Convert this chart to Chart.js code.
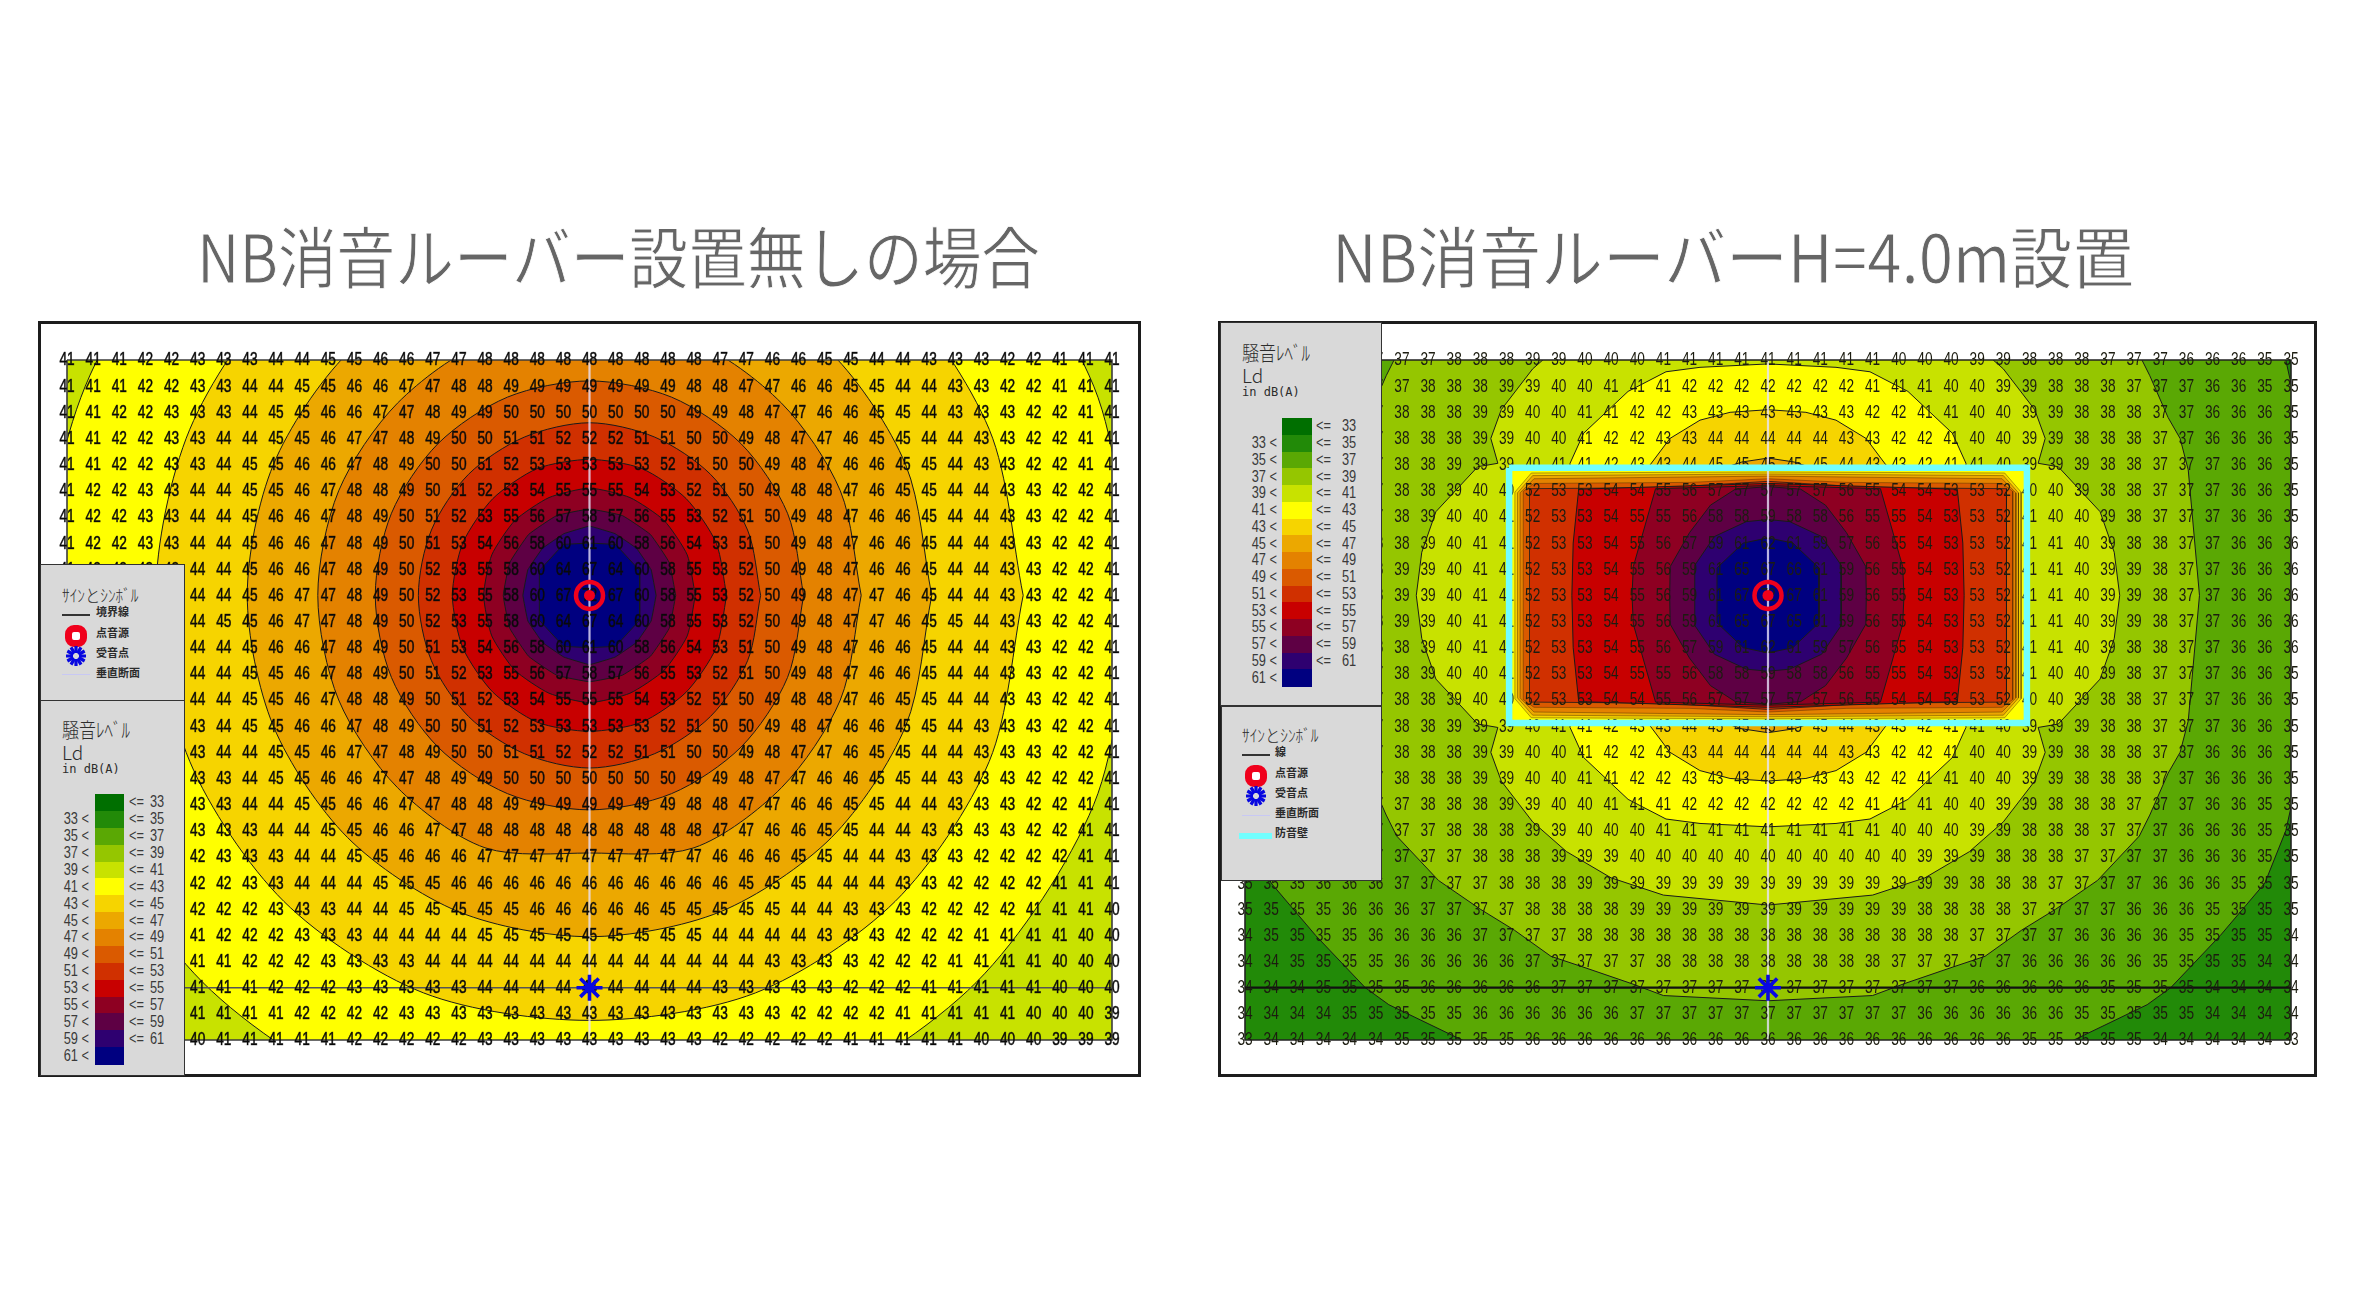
<!DOCTYPE html>
<html lang="ja"><head><meta charset="utf-8"><title>NB消音ルーバー</title>
<script src="https://cdn.jsdelivr.net/npm/chart.js@4"></script>
<style>
html,body{margin:0;padding:0;background:#fff;width:2363px;height:1308px;overflow:hidden}
#page{position:relative;width:2363px;height:1308px;font-family:"Noto Sans CJK JP",sans-serif}
.abs{position:absolute;white-space:pre;line-height:1}
canvas{position:absolute}
.frame{position:absolute;box-sizing:border-box;border:3px solid #1c1c1c}
.panel{position:absolute;box-sizing:border-box;background:#d9d9d9;border:1.5px solid #333}
.title{position:absolute;white-space:nowrap;color:#666;font-size:67px;line-height:1;transform-origin:0 50%;-webkit-text-stroke:.9px #fff}
</style></head><body><div id="page"></div>
<script>
// ---------- shared legend data ----------
const upperBounds=[33,35,37,39,41,43,45,47,49,51,53,55,57,59,61];
const lowerBounds=[33,35,37,39,41,43,45,47,49,51,53,55,57,59,61];
const bandColors=['#006f00','#228a08','#5aa804','#95c600','#c8e200','#ffff00','#f6d400','#eca800','#e48200','#da5a00','#d03000','#c80000','#8e0022','#5e0044','#2e0070','#000080'];
const legendLeftTitle='騒音ﾚﾍﾞﾙ', legendUnit='Ld', legendScale='in dB(A)', signTitle='ｻｲﾝとｼﾝﾎﾞﾙ';

const leftRow00=[41,41,41,42,42,43,43,43,44,44,45,45,46,46,47,47,48,48,48,48,48,48,48,48,48,47,47,46,46,45,45,44,44,43,43,43,42,42,41,41,41];
const leftRow01=[41,41,41,42,42,43,43,44,44,45,45,46,46,47,47,48,48,49,49,49,49,49,49,49,48,48,47,47,46,46,45,45,44,44,43,43,42,42,41,41,41];
const leftRow02=[41,41,42,42,43,43,43,44,45,45,46,46,47,47,48,49,49,50,50,50,50,50,50,50,49,49,48,47,47,46,46,45,45,44,43,43,43,42,42,41,41];
const leftRow03=[41,41,42,42,43,43,44,44,45,45,46,47,47,48,49,50,50,51,51,52,52,52,51,51,50,50,49,48,47,47,46,45,45,44,44,43,43,42,42,41,41];
const leftRow04=[41,41,42,42,43,43,44,45,45,46,46,47,48,49,50,50,51,52,53,53,53,53,53,52,51,50,50,49,48,47,46,46,45,45,44,43,43,42,42,41,41];
const leftRow05=[41,42,42,43,43,44,44,45,45,46,47,48,48,49,50,51,52,53,54,55,55,55,54,53,52,51,50,49,48,48,47,46,45,45,44,44,43,43,42,42,41];
const leftRow06=[41,42,42,43,43,44,44,45,46,46,47,48,49,50,51,52,53,55,56,57,58,57,56,55,53,52,51,50,49,48,47,46,46,45,44,44,43,43,42,42,41];
const leftRow07=[41,42,42,43,43,44,44,45,46,46,47,48,49,50,51,53,54,56,58,60,61,60,58,56,54,53,51,50,49,48,47,46,46,45,44,44,43,43,42,42,41];
const leftRow08=[41,42,42,43,43,44,44,45,46,46,47,48,49,50,52,53,55,58,60,64,67,64,60,58,55,53,52,50,49,48,47,46,46,45,44,44,43,43,42,42,41];
const leftRow09=[41,42,42,43,43,44,44,45,46,47,47,48,49,50,52,53,55,58,60,67,72,67,60,58,55,53,52,50,49,48,47,47,46,45,44,44,43,43,42,42,41];
const leftRow10=[41,42,42,43,43,44,45,45,46,47,47,48,49,50,52,53,55,58,60,64,67,64,60,58,55,53,52,50,49,48,47,47,46,45,45,44,43,43,42,42,41];
const leftRow11=[41,42,42,43,43,44,44,45,46,46,47,48,49,50,51,53,54,56,58,60,61,60,58,56,54,53,51,50,49,48,47,46,46,45,44,44,43,43,42,42,41];
const leftRow12=[41,42,42,43,43,44,44,45,45,46,47,48,49,50,51,52,53,55,56,57,58,57,56,55,53,52,51,50,49,48,47,46,46,45,44,44,43,43,42,42,41];
const leftRow13=[41,42,42,43,43,44,44,45,45,46,47,48,48,49,50,51,52,53,54,55,55,55,54,53,52,51,50,49,48,48,47,46,45,45,44,44,43,43,42,42,41];
const leftRow14=[41,42,42,43,43,43,44,45,45,46,46,47,48,49,50,50,51,52,53,53,53,53,53,52,51,50,50,49,48,47,46,46,45,45,44,43,43,43,42,42,41];
const leftRow15=[41,42,42,43,43,43,44,44,45,45,46,47,47,48,49,50,50,51,51,52,52,52,51,51,50,50,49,48,47,47,46,45,45,44,44,43,43,43,42,42,41];
const leftRow16=[41,42,42,42,43,43,43,44,45,45,46,46,47,47,48,49,49,50,50,50,50,50,50,50,49,49,48,47,47,46,46,45,45,44,43,43,43,42,42,42,41];
const leftRow17=[41,41,42,42,43,43,43,44,44,45,45,46,46,47,47,48,48,49,49,49,49,49,49,49,48,48,47,47,46,46,45,45,44,44,43,43,43,42,42,41,41];
const leftRow18=[41,41,42,42,43,43,43,43,44,44,45,45,46,46,47,47,48,48,48,48,48,48,48,48,48,47,47,46,46,45,45,44,44,43,43,43,43,42,42,41,41];
const leftRow19=[41,41,42,42,42,42,43,43,43,44,44,45,45,46,46,46,47,47,47,47,47,47,47,47,47,46,46,46,45,45,44,44,43,43,43,42,42,42,42,41,41];
const leftRow20=[41,41,41,42,42,42,42,43,43,44,44,44,45,45,45,46,46,46,46,46,46,46,46,46,46,46,45,45,45,44,44,44,43,43,42,42,42,42,41,41,41];
const leftRow21=[40,41,41,41,42,42,42,42,43,43,43,44,44,45,45,45,45,45,46,46,46,46,46,45,45,45,45,45,44,44,43,43,43,42,42,42,42,41,41,41,40];
const leftRow22=[40,40,41,41,41,41,42,42,42,43,43,43,44,44,44,44,45,45,45,45,45,45,45,45,45,44,44,44,44,43,43,43,42,42,42,41,41,41,41,40,40];
const leftRow23=[40,40,40,41,41,41,41,42,42,42,43,43,43,43,44,44,44,44,44,44,44,44,44,44,44,44,44,43,43,43,43,42,42,42,41,41,41,41,40,40,40];
const leftRow24=[40,40,40,41,41,41,41,41,42,42,42,43,43,43,43,43,44,44,44,44,44,44,44,44,44,43,43,43,43,43,42,42,42,41,41,41,41,41,40,40,40];
const leftRow25=[39,40,40,40,41,41,41,41,41,42,42,42,42,43,43,43,43,43,43,43,43,43,43,43,43,43,43,43,42,42,42,42,41,41,41,41,41,40,40,40,39];
const leftRow26=[39,39,39,40,40,40,41,41,41,41,41,42,42,42,42,42,43,43,43,43,43,43,43,43,43,42,42,42,42,42,41,41,41,41,41,40,40,40,39,39,39];
const leftGrid=[leftRow00,leftRow01,leftRow02,leftRow03,leftRow04,leftRow05,leftRow06,leftRow07,leftRow08,leftRow09,leftRow10,leftRow11,leftRow12,leftRow13,leftRow14,leftRow15,leftRow16,leftRow17,leftRow18,leftRow19,leftRow20,leftRow21,leftRow22,leftRow23,leftRow24,leftRow25,leftRow26];

const rightRow00=[35,35,36,36,36,37,37,37,38,38,38,39,39,40,40,40,41,41,41,41,41,41,41,41,41,40,40,40,39,39,38,38,38,37,37,37,36,36,36,35,35];
const rightRow01=[35,35,36,36,37,37,37,38,38,38,39,39,40,40,41,41,41,42,42,42,42,42,42,42,41,41,41,40,40,39,39,38,38,38,37,37,37,36,36,35,35];
const rightRow02=[35,36,36,36,37,37,38,38,38,39,39,40,40,41,41,42,42,43,43,43,43,43,43,43,42,42,41,41,40,40,39,39,38,38,38,37,37,36,36,36,35];
const rightRow03=[35,36,36,36,37,37,38,38,38,39,39,40,40,41,42,42,43,43,44,44,44,44,44,43,43,42,42,41,40,40,39,39,38,38,38,37,37,36,36,36,35];
const rightRow04=[35,36,36,37,37,37,38,38,39,39,39,40,41,41,42,43,43,44,45,45,45,45,45,44,43,43,42,41,41,40,39,39,39,38,38,37,37,37,36,36,35];
const rightRow05=[35,36,36,37,37,37,38,38,39,40,40,52,53,53,54,54,55,56,57,57,57,57,57,56,55,54,54,53,53,52,40,40,39,38,38,37,37,37,36,36,35];
const rightRow06=[35,36,36,37,37,37,38,39,40,40,41,52,53,53,54,55,55,56,58,58,59,58,58,56,55,55,54,53,53,52,41,40,40,39,38,37,37,37,36,36,35];
const rightRow07=[36,36,36,37,37,38,38,39,40,41,41,52,53,53,54,55,56,57,59,61,62,61,59,57,56,55,54,53,53,52,41,41,40,39,38,38,37,37,36,36,36];
const rightRow08=[36,36,36,37,37,38,39,39,40,41,41,52,53,53,54,55,56,59,61,65,67,66,61,59,56,55,54,53,53,52,41,41,40,39,39,38,37,37,36,36,36];
const rightRow09=[36,36,36,37,37,38,39,39,40,41,41,52,53,53,54,55,56,59,61,67,72,67,61,59,56,55,54,53,53,52,41,41,40,39,39,38,37,37,36,36,36];
const rightRow10=[36,36,36,37,37,38,39,39,40,41,41,52,53,53,54,55,56,59,61,65,67,65,61,59,56,55,54,53,53,52,41,41,40,39,39,38,37,37,36,36,36];
const rightRow11=[36,36,36,37,37,38,38,39,40,41,41,52,53,53,54,55,56,57,59,61,62,61,59,57,56,55,54,53,53,52,41,41,40,39,38,38,37,37,36,36,36];
const rightRow12=[35,36,36,37,37,37,38,39,40,40,41,52,53,53,54,55,55,56,58,58,59,58,58,56,55,55,54,53,53,52,41,40,40,39,38,37,37,37,36,36,35];
const rightRow13=[35,36,36,37,37,37,38,38,39,40,40,52,53,53,54,54,55,56,57,57,57,57,57,56,55,54,54,53,53,52,40,40,39,38,38,37,37,37,36,36,35];
const rightRow14=[35,36,36,37,37,37,38,38,39,39,39,40,41,41,42,43,43,44,45,45,45,45,45,44,43,43,42,41,41,40,39,39,39,38,38,37,37,37,36,36,35];
const rightRow15=[35,36,36,36,37,37,38,38,38,39,39,40,40,41,42,42,43,43,44,44,44,44,44,43,43,42,42,41,40,40,39,39,38,38,38,37,37,36,36,36,35];
const rightRow16=[35,36,36,36,37,37,38,38,38,39,39,40,40,41,41,42,42,43,43,43,43,43,43,43,42,42,41,41,40,40,39,39,38,38,38,37,37,36,36,36,35];
const rightRow17=[35,35,36,36,37,37,37,38,38,38,39,39,40,40,41,41,41,42,42,42,42,42,42,42,41,41,41,40,40,39,39,38,38,38,37,37,37,36,36,35,35];
const rightRow18=[35,35,36,36,36,37,37,37,38,38,38,39,39,40,40,40,41,41,41,41,41,41,41,41,41,40,40,40,39,39,38,38,38,37,37,37,36,36,36,35,35];
const rightRow19=[35,35,36,36,36,37,37,37,37,38,38,38,39,39,39,40,40,40,40,40,40,40,40,40,40,40,39,39,39,38,38,38,37,37,37,37,36,36,36,35,35];
const rightRow20=[35,35,35,36,36,36,37,37,37,37,38,38,38,39,39,39,39,39,39,39,39,39,39,39,39,39,39,39,38,38,38,37,37,37,37,36,36,36,35,35,35];
const rightRow21=[35,35,35,35,36,36,36,37,37,37,37,38,38,38,38,39,39,39,39,39,39,39,39,39,39,39,38,38,38,38,37,37,37,37,36,36,36,35,35,35,35];
const rightRow22=[34,35,35,35,35,36,36,36,36,37,37,37,37,38,38,38,38,38,38,38,38,38,38,38,38,38,38,38,37,37,37,37,36,36,36,36,35,35,35,35,34];
const rightRow23=[34,34,35,35,35,35,36,36,36,36,36,37,37,37,37,37,38,38,38,38,38,38,38,38,38,37,37,37,37,37,36,36,36,36,36,35,35,35,35,34,34];
const rightRow24=[34,34,34,35,35,35,35,36,36,36,36,36,37,37,37,37,37,37,37,37,37,37,37,37,37,37,37,37,36,36,36,36,36,35,35,35,35,34,34,34,34];
const rightRow25=[34,34,34,34,35,35,35,35,35,36,36,36,36,36,36,37,37,37,37,37,37,37,37,37,37,37,36,36,36,36,36,36,35,35,35,35,35,34,34,34,34];
const rightRow26=[33,34,34,34,34,34,35,35,35,35,35,36,36,36,36,36,36,36,36,36,36,36,36,36,36,36,36,36,36,36,35,35,35,35,35,34,34,34,34,34,33];
const rightGrid=[rightRow00,rightRow01,rightRow02,rightRow03,rightRow04,rightRow05,rightRow06,rightRow07,rightRow08,rightRow09,rightRow10,rightRow11,rightRow12,rightRow13,rightRow14,rightRow15,rightRow16,rightRow17,rightRow18,rightRow19,rightRow20,rightRow21,rightRow22,rightRow23,rightRow24,rightRow25,rightRow26];

// ---------- contour outlines: one quadrant, offsets [columns, rows] from the source ----------
const sourceCol=20, sourceRow=9, receiverCol=20, receiverRow=24, lastCol=40, lastRow=26;
const leftContour41=[[20.9,0],[19.3,8],[14.8,14.8],[8,19.3],[0,20.9]];
const leftContour43=[[16.6,0],[15.3,6.35],[11.7,11.7],[6.35,15.2],[0,16.25]];
const leftContour45=[[13.1,0],[12.1,5],[9.26,9.26],[5,12.1],[0,13.05]];
const leftContour47=[[10.4,0],[9.6,4],[7.35,7.35],[4,9.65],[0,9.85]];
const leftContour49=[[8.2,0],[7.58,3.14],[5.8,5.8],[3.14,7.58],[0,8.2]];
const leftContour51=[[6.55,0],[6.05,2.5],[4.63,4.63],[2.5,6.05],[0,6.6]];
const leftContour53=[[5.25,0],[4.85,2],[3.7,3.7],[2,4.85],[0,5.2]];
const leftContour55=[[4.05,0],[3.74,1.55],[2.86,2.86],[1.55,3.74],[0,4.1]];
const leftContour57=[[3.3,0],[3.05,1.26],[2.33,2.33],[1.26,3.05],[0,3.3]];
const leftContour59=[[2.55,0],[2.36,0.98],[1.8,1.8],[0.98,2.36],[0,2.65]];
const leftContour61=[[1.92,0],[1.92,0.95],[1,1.95],[0,2]];
const rightContour35=[[21.5,0],[20.6,5],[20,8.1],[19.8,9],[19,11],[17.3,13],[15.4,15],[14.5,15.65],[11.7,17],[6,19.5],[0,20.5]];
const rightContour37=[[16.5,0],[16.07,4.8],[15.76,6],[15.3,6.8],[14.6,8.4],[14.2,9.2],[12.6,10.9],[11,12],[9.7,12.8],[8.3,13.8],[7.1,14.2],[5.2,14.85],[4,15.3],[0,15.5]];
const rightContour39=[[13.45,0],[13.24,1.65],[12.7,3.2],[11.1,4.92],[10.33,5.05],[10.6,6],[10.2,7.1],[9,8.66],[7.7,9.8],[6,10.8],[4,11.46],[0,11.84]];
const rightContour41=[[7.6,0],[7.57,5.05],[7.05,6.2],[5.35,7.8],[3.9,8.55],[2.6,8.72],[0,8.85]];
const rightContour43=[[4.5,0],[4.5,5],[3.75,6],[2.6,6.7],[1.45,7],[0,7.1]];
const rightContour45=[[1.6,0],[1.6,4.9],[1,5.1],[0,5.25]];
const wallHalfWidth=9.9, wallHalfHeight=4.88;
const innerContour43=[[9.68,0],[9.68,3.95],[9.05,4.68],[0,4.72]];
const innerContour45=[[9.58,0],[9.58,3.92],[9,4.58],[0,4.64]];
const innerContour47=[[9.48,0],[9.48,3.92],[8.95,4.46],[0,4.56]];
const innerContour49=[[9.36,0],[9.36,3.98],[8.95,4.28],[3,4.32],[0,4.46]];
const innerContour51=[[9.12,0],[9.12,4.08],[4,4.12],[0,4.36]];
const innerContour53=[[7.5,0],[7.45,2],[7.24,4.06],[0,4.28]];
const innerContour55=[[5.2,0],[5.15,1.1],[4.3,4.08],[0,4.2]];
const innerContour57=[[3.76,0],[3.74,1.1],[3,2.4],[2.2,3.45],[1.25,4.06],[0,4.16]];
const innerContour59=[[2.8,0],[2.8,1.15],[2.05,2.25],[0.83,2.82],[0,2.9]];
const innerContour61=[[1.95,0],[1.95,1.05],[0.95,2],[0,2.2]];

// ---------- helpers ----------
function ring(q){
  const pts=[];
  const c=(dx,dy)=>pts.push({x:sourceCol+dx,y:sourceRow+dy});
  q.forEach(p=>c(p[0],p[1]));
  for(let i=q.length-2;i>=0;i--)c(-q[i][0],q[i][1]);
  for(let i=1;i<q.length;i++)c(-q[i][0],-q[i][1]);
  for(let i=q.length-2;i>=0;i--)c(q[i][0],-q[i][1]);
  return pts;
}
const band=l=>bandColors[upperBounds.indexOf(l)+1];
function area(q,level,tension,lineWidth,lineColor){
  return {data:ring(q),backgroundColor:band(level),borderColor:lineColor||'#1a1a1a',borderWidth:lineWidth||1,fill:'shape',showLine:true,pointRadius:0,tension:tension||0};
}
function box(x0,x1,y0,y1,fillColor){
  const d=[{x:x0,y:y0},{x:x1,y:y0},{x:x1,y:y1},{x:x0,y:y1},{x:x0,y:y0}];
  return {data:d,backgroundColor:fillColor,borderColor:fillColor,borderWidth:0,fill:'shape',showLine:true,pointRadius:0};
}
function path(d,color,width,clip){
  return {data:d,borderColor:color,borderWidth:width,fill:false,showLine:true,pointRadius:0,clip:clip===undefined?0:clip};
}
function labelLayer(grid,bold){
  return {labelLayer:true,bold:bold,data:grid.flatMap((r,y)=>r.map((v,x)=>({x:x,y:y,v:v}))),showLine:false,pointRadius:0,fill:false};
}
function marks(){
  return [
    {data:[{x:sourceCol,y:sourceRow}],showLine:false,pointStyle:'circle',pointRadius:13.5,pointBorderWidth:4.5,pointBorderColor:'#f0001c',pointBackgroundColor:'rgba(0,0,0,0)',fill:false},
    {data:[{x:sourceCol,y:sourceRow}],showLine:false,pointStyle:'circle',pointRadius:5.5,pointBorderWidth:0,pointBackgroundColor:'#f0001c',fill:false},
    {data:[{x:receiverCol,y:receiverRow}],showLine:false,pointStyle:'star',pointRadius:13,pointBorderWidth:3.6,pointBorderColor:'#0808e0',fill:false}
  ];
}
const numberPainter={id:'numberPainter',afterDatasetDraw(chart,args){
  const ds=chart.data.datasets[args.index];
  if(!ds.labelLayer)return;
  const ctx=chart.ctx,meta=args.meta;
  ctx.save();
  ctx.font='18px "Liberation Sans",sans-serif';
  ctx.textAlign='center';ctx.textBaseline='middle';
  ctx.fillStyle=ds.bold?'#0a0a0a':'#1c1c10';
  ctx.strokeStyle='rgba(10,10,10,.7)';ctx.lineWidth=.7;
  meta.data.forEach((pt,i)=>{
    const t=String(ds.data[i].v);
    ctx.save();
    ctx.translate(pt.x,pt.y+.5);ctx.scale(.76,1);
    ctx.fillText(t,0,0);
    if(ds.bold)ctx.strokeText(t,0,0);
    ctx.restore();
  });
  ctx.restore();
}};
function build(id,frame,plot,sets){
  const page=document.getElementById('page');
  const f=document.createElement('div');f.className='frame';
  Object.assign(f.style,{left:frame.x+'px',top:frame.y+'px',width:frame.w+'px',height:frame.h+'px'});
  page.appendChild(f);
  const c=document.createElement('canvas');c.id=id;c.width=frame.w;c.height=frame.h;
  Object.assign(c.style,{left:frame.x+'px',top:frame.y+'px',width:frame.w+'px',height:frame.h+'px'});
  page.appendChild(c);
  sets.forEach((s,i)=>{s.order=sets.length-i;});
  return new Chart(c,{type:'scatter',data:{datasets:sets},plugins:[numberPainter],options:{
    responsive:false,animation:false,devicePixelRatio:1,events:[],
    layout:{padding:{left:plot.x0-frame.x,right:frame.x+frame.w-plot.x1,top:plot.y0-frame.y,bottom:frame.y+frame.h-plot.y1}},
    plugins:{legend:{display:false},tooltip:{enabled:false},title:{display:false}},
    scales:{x:{type:'linear',display:false,min:0,max:lastCol},y:{type:'linear',display:false,min:0,max:lastRow,reverse:true}}
  }});
}
const edge=[{x:0,y:0},{x:lastCol,y:0},{x:lastCol,y:lastRow},{x:0,y:lastRow},{x:0,y:0}];
const section=[{x:sourceCol,y:0},{x:sourceCol,y:lastRow}];
const receiverLine=[{x:0,y:receiverRow},{x:lastCol,y:receiverRow}];
const wall=[{x:sourceCol-wallHalfWidth,y:sourceRow-wallHalfHeight},{x:sourceCol+wallHalfWidth,y:sourceRow-wallHalfHeight},{x:sourceCol+wallHalfWidth,y:sourceRow+wallHalfHeight},{x:sourceCol-wallHalfWidth,y:sourceRow+wallHalfHeight},{x:sourceCol-wallHalfWidth,y:sourceRow-wallHalfHeight}];
const rimLine='rgba(50,25,0,.55)';

// ---------- left map ----------
build('mapLeft',{x:38,y:321,w:1103,h:756},{x0:67,x1:1112,y0:360,y1:1040},[
  box(0,lastCol,0,lastRow,band(39)),
  area(leftContour41,41,.3),area(leftContour43,43,.3),area(leftContour45,45,.3),area(leftContour47,47,.3),
  area(leftContour49,49,.3),area(leftContour51,51,.3),area(leftContour53,53,.25),area(leftContour55,55,.2),
  area(leftContour57,57,.1),area(leftContour59,59,.05),area(leftContour61,61,0),
  path(section,'rgba(232,226,250,.8)',2.2),
  path(edge,'#3c3c3c',1.6,3),
  path(receiverLine,'#555',1.6),
  labelLayer(leftGrid,true),
  ...marks()
]);
// ---------- right map ----------
build('mapRight',{x:1218,y:321,w:1099,h:756},{x0:1245,x1:2291,y0:360,y1:1040},[
  box(0,lastCol,0,lastRow,band(33)),
  area(rightContour35,35),area(rightContour37,37),area(rightContour39,39),area(rightContour41,41),area(rightContour43,43),area(rightContour45,45),
  box(sourceCol-wallHalfWidth,sourceCol+wallHalfWidth,sourceRow-wallHalfHeight,sourceRow+wallHalfHeight,band(41)),
  area(innerContour43,43,0,.7,rimLine),area(innerContour45,45,0,.7,rimLine),area(innerContour47,47,0,.7,rimLine),area(innerContour49,49,0,.7,rimLine),area(innerContour51,51,0,.8),
  area(innerContour53,53),area(innerContour55,55),area(innerContour57,57),area(innerContour59,59),area(innerContour61,61),
  path(section,'rgba(232,226,250,.8)',2.2),
  path(edge,'#222',1.6,3),
  path(receiverLine,'#111',2.2),
  labelLayer(rightGrid,false),
  path(wall,'#72ffff',6.5,5),
  ...marks()
]);

// ---------- page furniture ----------
const page=document.getElementById('page');
function addPanel(x,y,w,h){const d=document.createElement('div');d.className='panel';Object.assign(d.style,{left:x+'px',top:y+'px',width:w+'px',height:h+'px'});page.appendChild(d);}
function addText(x,yc,t,size,css){const d=document.createElement('div');d.className='abs';d.textContent=t;Object.assign(d.style,{left:x+'px',top:(yc-size/2)+'px',fontSize:size+'px',color:'#2c2c2c'},css||{});page.appendChild(d);return d;}
function addRect(x,y,w,h,color){const d=document.createElement('div');Object.assign(d.style,{position:'absolute',left:x+'px',top:y+'px',width:w+'px',height:h+'px',background:color});page.appendChild(d);}
function iconSource(cx,cy){const s=document.createElement('div');Object.assign(s.style,{position:'absolute',left:(cx-11)+'px',top:(cy-11)+'px',width:'22px',height:'22px',boxSizing:'border-box',border:'7.5px solid #f0001c',borderRadius:'9px',background:'#fff'});page.appendChild(s);}
function iconReceiver(cx,cy){const s=document.createElementNS('http://www.w3.org/2000/svg','svg');s.setAttribute('width',24);s.setAttribute('height',24);Object.assign(s.style,{position:'absolute',left:(cx-12)+'px',top:(cy-12)+'px'});
  [0,30,60,90,120,150].forEach(a=>{const l=document.createElementNS('http://www.w3.org/2000/svg','line');l.setAttribute('x1',12);l.setAttribute('y1',2);l.setAttribute('x2',12);l.setAttribute('y2',22);l.setAttribute('stroke','#0808e0');l.setAttribute('stroke-width',3.2);l.setAttribute('stroke-dasharray','7 6 7');l.setAttribute('transform','rotate('+a+' 12 12)');s.appendChild(l);});page.appendChild(s);}
const narrow={fontFamily:'"Liberation Sans",sans-serif',color:'#3a3a3a',transform:'scaleX(.8)',transformOrigin:'0 50%'};
const narrowRight=Object.assign({},narrow,{transformOrigin:'100% 50%',width:'36px',textAlign:'right'});
function scaleLegend(swX,swW,swY,swH,leftRight,leftOp,numX,kanaX,titleY){
  addText(kanaX,titleY,legendLeftTitle,20,{transform:'scaleX(.85)',transformOrigin:'0 50%',fontWeight:300});
  addText(kanaX,titleY+21,legendUnit,19,{fontWeight:300});
  addText(kanaX,titleY+39,legendScale,12,{fontFamily:'"DejaVu Sans Mono",monospace'});
  const h=swH/bandColors.length;
  bandColors.forEach((col,i)=>{
    addRect(swX,swY+i*h,swW,h+.5,col);
    const yc=swY+i*h+h/2;
    if(i>0)addText(leftRight-36,yc,lowerBounds[i-1]+' <',16,narrowRight);
    if(i<upperBounds.length){addText(leftOp,yc,'<=',16,narrow);addText(numX,yc,String(upperBounds[i]),16,narrow);}
  });
}
function signLegend(tx,lineX,lineW,iconX,textX,ys,names){
  addText(lineX,ys.title,signTitle,17,{transform:'scaleX(.9)',transformOrigin:'0 50%',fontWeight:300});
  addRect(lineX,ys.line,lineW,1.6,'#333');
  addText(textX,ys.line-3,names[0],11,{fontWeight:700});
  iconSource(iconX,ys.src);addText(textX,ys.src-4,'点音源',11,{fontWeight:700});
  iconReceiver(iconX,ys.rec);addText(textX,ys.rec-4,'受音点',11,{fontWeight:700});
  addRect(lineX,ys.sec,lineW,1.2,'#c8c8f4');addText(textX,ys.sec-2,'垂直断面',11,{fontWeight:700});
}
// left panels
addPanel(40,564,145,137);addPanel(40,700,145,376);
signLegend(0,62,28,76,96,{title:594,line:614,src:636,rec:656,sec:674},['境界線']);
scaleLegend(94.5,29.5,794,270,89,129,150,62,730);
// right panels
addPanel(1220,322,162,384);addPanel(1221,706,161,175);
signLegend(0,1242,28,1256,1275,{title:734,line:754,src:776,rec:796,sec:814.5},['線']);
addRect(1239,833,33,6,'#72ffff');addText(1275,832,'防音壁',11,{fontWeight:700});
scaleLegend(1281.7,30.3,418,268,1277,1316,1342,1242,353);

// titles, fitted to the width they span in the picture
function addTitle(x0,x1,yc,t){const d=document.createElement('div');d.className='title';d.textContent=t;d.style.left=x0+'px';d.style.top=(yc-38)+'px';page.appendChild(d);const w=d.getBoundingClientRect().width;d.style.transform='scaleX('+((x1-x0)/w)+')';}
addTitle(197,1040,258,'NB消音ルーバー設置無しの場合');
addTitle(1332,2134,258,'NB消音ルーバーH=4.0m設置');
</script></body></html>
